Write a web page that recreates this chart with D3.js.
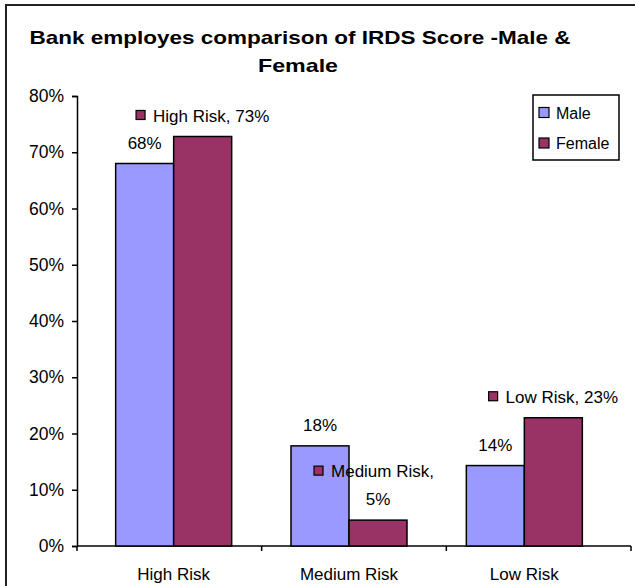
<!DOCTYPE html>
<html>
<head>
<meta charset="utf-8">
<script src="https://cdn.jsdelivr.net/npm/d3@7"></script>
<style>
html,body{margin:0;padding:0;background:#fff;}
svg{display:block;font-family:"Liberation Sans",Arial,sans-serif;}
</style>
</head>
<body>
<svg id="chart" width="635" height="586"></svg>
<script>
const categories = ["High Risk", "Medium Risk", "Low Risk"];
const seriesNames = ["Male", "Female"];
const maleValues = [0.68, 0.178, 0.143];
const femaleValues = [0.728, 0.046, 0.228];
const femaleLabelWrap = [false, true, false];
const yTicks = [0, 0.1, 0.2, 0.3, 0.4, 0.5, 0.6, 0.7, 0.8];
const titleLines = ["Bank employes comparison of IRDS Score -Male &", "Female"];

const colors = {Male: "#9999FF", Female: "#993366"};
const svg = d3.select("#chart");

// outer frame (right and bottom edges lie outside the picture)
svg.append("rect").attr("x", 6).attr("y", 5).attr("width", 650).attr("height", 620)
  .attr("fill", "none").attr("stroke", "#222").attr("stroke-width", 2);

// title
svg.append("text").attr("x", 300).attr("y", 44).attr("text-anchor", "middle")
  .attr("font-size", 19).attr("font-weight", "bold").attr("fill", "#000")
  .attr("textLength", 541).attr("lengthAdjust", "spacingAndGlyphs")
  .text(titleLines[0]);
svg.append("text").attr("x", 298).attr("y", 72).attr("text-anchor", "middle")
  .attr("font-size", 19).attr("font-weight", "bold").attr("fill", "#000")
  .attr("textLength", 80).attr("lengthAdjust", "spacingAndGlyphs")
  .text(titleLines[1]);

const y = d3.scaleLinear().domain([0, 0.8]).range([546, 96]);
const xAxisScale = d3.scaleBand().domain(categories).range([77, 631]);
const xBars = d3.scaleBand().domain(categories).range([86, 612]);
const xSub = d3.scaleBand().domain(seriesNames).range([-58, 58]);

// y axis
const yAxis = d3.axisLeft(y).tickValues(yTicks).tickSize(5).tickPadding(8)
  .tickFormat(d3.format(".0%"));
const gy = svg.append("g").attr("transform", "translate(77,0)").call(yAxis);
gy.select(".domain").attr("stroke", "#000").attr("stroke-width", 1.5);
gy.selectAll(".tick line").attr("stroke", "#000").attr("stroke-width", 1.5);
gy.selectAll(".tick text").attr("font-size", 17.5).attr("fill", "#000")
  .attr("font-family", "Liberation Sans, Arial, sans-serif");

// x axis
const gx = svg.append("g").attr("transform", "translate(0,546)");
gx.append("line").attr("x1", xAxisScale.range()[0]).attr("x2", xAxisScale.range()[1])
  .attr("stroke", "#000").attr("stroke-width", 1.5);
const bounds = categories.map(c => xAxisScale(c)).concat([xAxisScale.range()[1]]);
gx.selectAll("line.tk").data(bounds).enter().append("line").attr("class", "tk")
  .attr("x1", d => d).attr("x2", d => d).attr("y1", 0).attr("y2", 5)
  .attr("stroke", "#000").attr("stroke-width", 1.5);
gx.selectAll("text.cat").data(categories).enter().append("text").attr("class", "cat")
  .attr("x", d => xBars(d) + xBars.bandwidth() / 2).attr("y", 34)
  .attr("text-anchor", "middle").attr("font-size", 17).attr("fill", "#000")
  .text(d => d);

// bars
const rows = categories.map((c, i) => ({cat: c, i, Male: maleValues[i], Female: femaleValues[i]}));
const groups = svg.selectAll("g.grp").data(rows).enter().append("g").attr("class", "grp")
  .attr("transform", d => `translate(${xBars(d.cat) + xBars.bandwidth() / 2},0)`);
groups.selectAll("rect").data(d => seriesNames.map(s => ({s, v: d[s]}))).enter().append("rect")
  .attr("x", d => xSub(d.s)).attr("width", xSub.bandwidth())
  .attr("y", d => y(d.v)).attr("height", d => y(0) - y(d.v))
  .attr("fill", d => colors[d.s]).attr("stroke", "#000").attr("stroke-width", 1.5);

const pct = v => Math.round(v * 100) + "%";

// male labels
groups.append("text")
  .attr("x", xSub("Male") + xSub.bandwidth() / 2)
  .attr("y", d => y(d.Male) - 15)
  .attr("text-anchor", "middle").attr("font-size", 17).attr("fill", "#000")
  .text(d => pct(d.Male));

// female labels with legend key
groups.each(function(d) {
  const g = d3.select(this);
  const cx = xSub("Female") + xSub.bandwidth() / 2;
  const top = y(d.Female);
  const lines = femaleLabelWrap[d.i] ? [d.cat + ",", pct(d.Female)] : [d.cat + ", " + pct(d.Female)];
  const lab = g.append("g");
  lines.forEach((ln, k) => {
    const baseY = top - 15 - (lines.length - 1 - k) * 28;
    const t = lab.append("text").attr("y", baseY).attr("font-size", 17).attr("fill", "#000").text(ln);
    if (k === 0) {
      const w = t.node().getComputedTextLength();
      const total = w + 17;
      const x0 = cx - total / 2 - (lines.length > 1 ? 4 : 0);
      lab.append("rect").attr("x", x0).attr("y", baseY - 11).attr("width", 9).attr("height", 9)
        .attr("fill", colors.Female).attr("stroke", "#000").attr("stroke-width", 1.2);
      t.attr("x", x0 + 17);
    } else {
      t.attr("x", cx).attr("text-anchor", "middle");
    }
  });
});

// legend
const lg = svg.append("g");
lg.append("rect").attr("x", 533).attr("y", 95).attr("width", 86).attr("height", 65)
  .attr("fill", "#fff").attr("stroke", "#000").attr("stroke-width", 1.5);
seriesNames.forEach((s, k) => {
  const cy = 112.5 + k * 30.5;
  lg.append("rect").attr("x", 539).attr("y", cy - 5).attr("width", 10).attr("height", 10)
    .attr("fill", colors[s]).attr("stroke", "#000").attr("stroke-width", 1.2);
  lg.append("text").attr("x", 556).attr("y", cy + 6).attr("font-size", 16).attr("fill", "#000").text(s);
});
</script>
</body>
</html>
